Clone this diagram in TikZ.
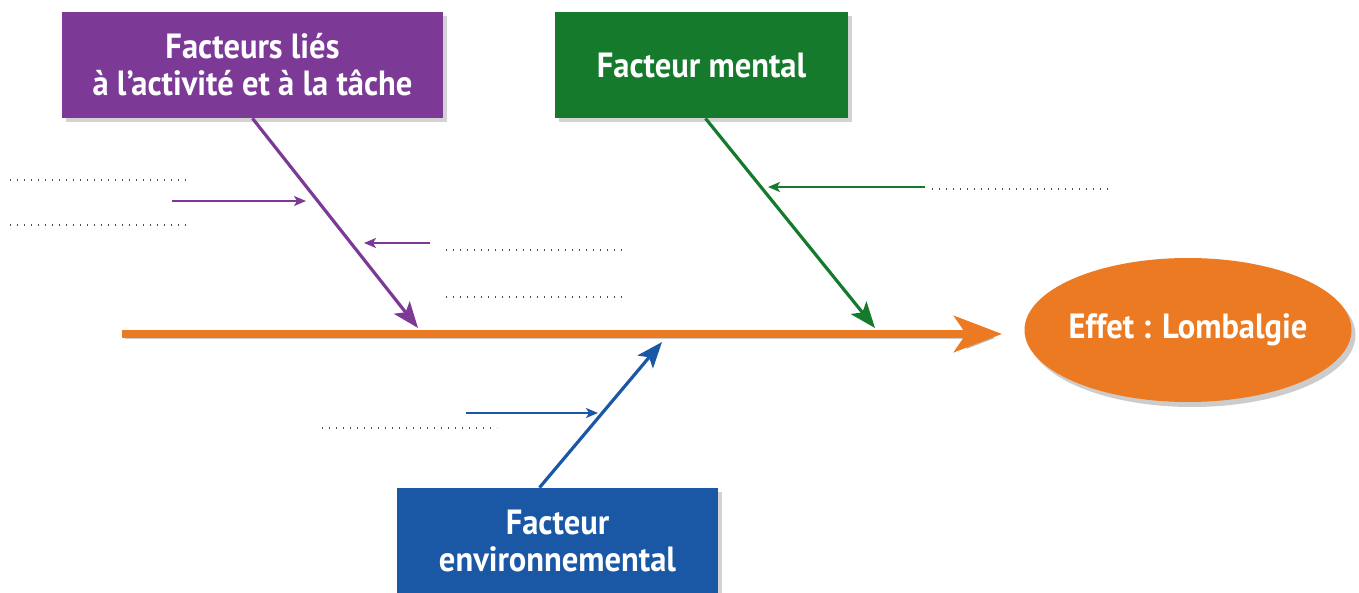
\documentclass[tikz,border=0pt]{standalone}
\usepackage{fontspec}
\setsansfont{PT Sans}[FakeStretch=0.93]
\usetikzlibrary{positioning,arrows.meta,shadows,shapes.geometric}

\definecolor{tache}{RGB}{124,58,150}
\definecolor{mental}{RGB}{22,122,45}
\definecolor{milieu}{RGB}{26,88,166}
\definecolor{effet}{RGB}{236,122,34}

\tikzset{
    facteur/.style={rectangle, text=white, align=center, inner sep=0pt,
        font=\sffamily\bfseries\fontsize{17.5}{18.5}\selectfont,
        drop shadow={shadow xshift=2pt, shadow yshift=-2pt, opacity=0.35}},
    arete/.style={line width=1.6pt, -{Stealth[length=13pt,width=10pt,inset=3pt]}},
    cause/.style={line width=0.9pt, -{Stealth[length=6pt,width=5pt,inset=1.5pt]}},
    ligne/.style={line width=0.7pt, gray!60!black, dash pattern=on 0.7pt off 2.8pt},
}

\begin{document}
\begin{tikzpicture}[x=0.5pt,y=-0.5pt]
    \useasboundingbox (0,0) rectangle (1359,593);

    % the three families of causes
    \node[facteur, fill=tache, minimum width=190.5pt, minimum height=53pt]
        (tache) at (252.5,65) {Facteurs liés\\à l’activité et à la tâche};
    \node[facteur, fill=mental, minimum width=146.5pt, minimum height=53pt]
        (mental) at (701.5,65) {Facteur mental};
    \node[facteur, fill=milieu, minimum width=160.5pt, minimum height=52.5pt]
        (milieu) at (557.5,540.5) {Facteur\\environnemental};

    % the effect at the head of the fish
    \node[ellipse, fill=effet, text=white, inner xsep=-15pt, inner ysep=0pt,
        minimum width=163.5pt, minimum height=72pt,
        font=\sffamily\bfseries\fontsize{17.5}{18.5}\selectfont,
        drop shadow={shadow xshift=2pt, shadow yshift=-2.5pt, opacity=0.4}]
        (effet) at (1188,330) {Effet : Lombalgie};

    % spine of the fish
    \coordinate (queue) at (122,334);
    \draw[effet, line width=4pt, -{Stealth[length=24pt,width=18pt,inset=6pt]}, shorten >=11pt,
        preaction={draw=black, opacity=0.2, transform canvas={shift={(1.5pt,-2pt)}}}]
        (queue) -- (effet.west |- queue);

    % where the bones meet the spine
    \coordinate (p1) at (418,328);
    \coordinate (p2) at (875,328);
    \coordinate (p3) at (662,342);

    % bones
    \draw[arete, tache] (tache.south) -- (p1);
    \draw[arete, mental] ([xshift=2pt]mental.south) -- (p2);
    \draw[arete, milieu] ([xshift=-9pt]milieu.north) -- (p3);

    % small causes pointing at the bones
    \coordinate (a1) at (172,201);
    \coordinate (b1) at (306,201);
    \coordinate (a2) at (430,243);
    \coordinate (b2) at (364,243);
    \coordinate (a3) at (925,187);
    \coordinate (b3) at (768,187);
    \coordinate (a4) at (466,413);
    \coordinate (b4) at (598,413);
    \foreach \a/\b/\c in {a1/b1/tache, a2/b2/tache, a3/b3/mental, a4/b4/milieu}
        \draw[cause, \c] (\a) -- (\b);

    % dotted lines left blank to be filled in
    \foreach \y in {180,225}
        \draw[ligne] (10,\y) -- (186,\y);
    \foreach \y in {250,297}
        \draw[ligne] (446,\y) -- (625,\y);
    \draw[ligne] (932,189) -- (1113,189);
    \draw[ligne] (322,428) -- (497,428);
\end{tikzpicture}
\end{document}
